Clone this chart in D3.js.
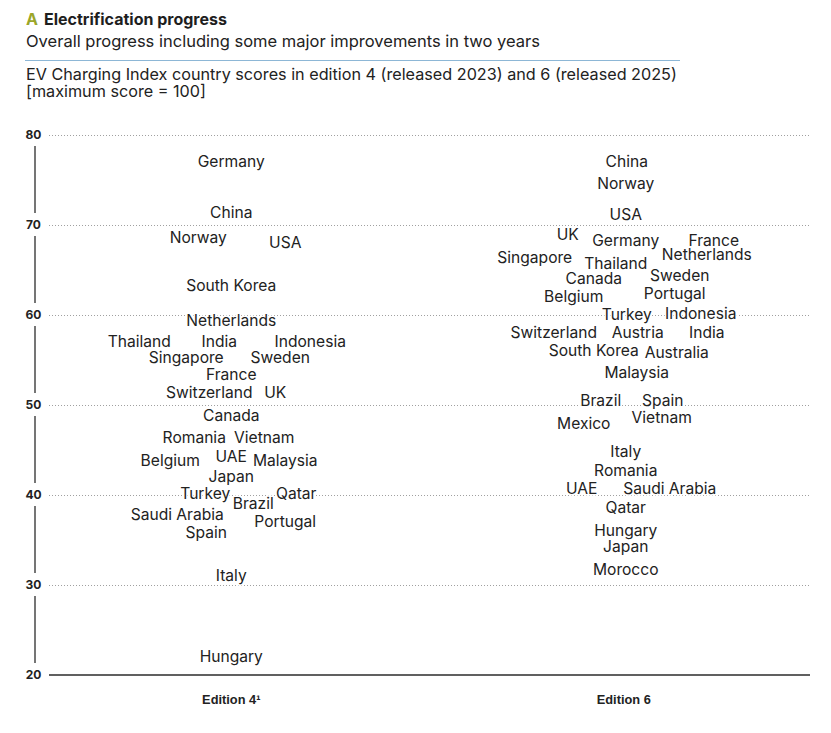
<!DOCTYPE html>
<html>
<head>
<meta charset="utf-8">
<script src="https://cdn.jsdelivr.net/npm/d3@7"></script>
<style>
  body { margin: 0; background: #fff; }
  svg { display: block; font-family: Inter, "Noto Sans", sans-serif; }
  .title { font-size: 16px; font-weight: 700; fill: #1e1e1e; }
  .title-letter { fill: #9ba62a; }
  .subtitle { font-size: 16.5px; fill: #222; }
  .desc { font-size: 16.2px; fill: #222; }
  .grid line { stroke: #a0a0a0; stroke-width: 1; stroke-dasharray: 1 2; }
  .tick-label { font-size: 12px; font-weight: 700; fill: #222; }
  .axis-seg { stroke: #2b2b2b; stroke-width: 1.3; }
  .baseline { stroke: #2b2b2b; stroke-width: 1.5; }
  .country { font-size: 15.6px; fill: #222; stroke: #fff; stroke-width: 3px;
             paint-order: stroke; stroke-linejoin: round; }
  .axis--x text { font-size: 12.8px; font-weight: 700; fill: #222; }
</style>
</head>
<body>
<div id="chart"></div>
<script>
(function () {
  "use strict";

  // Data
  const editions = ["Edition 4", "Edition 6"];
  const editionLabels = ["Edition 4\u00b9", "Edition 6"];
  const yTicks = [20, 30, 40, 50, 60, 70, 80];

  const ed4Countries = ["Germany", "China", "Norway", "USA", "South Korea", "Netherlands",
    "Thailand", "India", "Indonesia", "Singapore", "Sweden", "France", "Switzerland", "UK",
    "Canada", "Romania", "Vietnam", "Belgium", "UAE", "Malaysia", "Japan", "Turkey", "Qatar",
    "Brazil", "Saudi Arabia", "Portugal", "Spain", "Italy", "Hungary"];
  const ed4Scores = [77.0, 71.4, 68.6, 68.1, 63.3, 59.4,
    57.1, 57.1, 57.1, 55.3, 55.3, 53.4, 51.4, 51.4,
    48.8, 46.4, 46.4, 43.8, 44.3, 43.8, 42.0, 40.2, 40.2,
    39.1, 37.8, 37.1, 35.8, 31.1, 22.0];

  const ed6Countries = ["China", "Norway", "USA", "UK", "Germany", "France", "Singapore",
    "Netherlands", "Thailand", "Canada", "Sweden", "Belgium", "Portugal", "Turkey",
    "Indonesia", "Switzerland", "Austria", "India", "South Korea", "Australia", "Malaysia",
    "Brazil", "Spain", "Vietnam", "Mexico", "Italy", "Romania", "UAE", "Saudi Arabia",
    "Qatar", "Hungary", "Japan", "Morocco"];
  const ed6Scores = [77.0, 74.6, 71.2, 68.9, 68.3, 68.3, 66.4,
    66.7, 65.7, 64.1, 64.4, 62.0, 62.4, 60.0,
    60.2, 58.1, 58.1, 58.1, 56.0, 55.8, 53.6,
    50.5, 50.5, 48.6, 47.9, 44.8, 42.7, 40.7, 40.7,
    38.6, 36.1, 34.3, 31.7];

  // Layout: horizontal nudges (px) so that labels with close scores don't collide
  const ed4Nudge = [0, 0, -33, 54, 0, 0,
    -92, -12, 79, -45, 49, 0, -22, 44,
    0, -37, 33, -61, 0, 54, 0, -26, 65,
    22, -54, 54, -25, 0, 0];
  const ed6Nudge = [3, 2, 2, -56, 2, 90, -89,
    83, -8, -30, 56, -50, 51, 3,
    77, -70, 14, 83, -30, 53, 13,
    -23, 39, 38, -40, 2, 2, -42, 46,
    2, 2, 2, 2];

  const rows = [];
  ed4Countries.forEach((c, i) => rows.push({ ed: editions[0], name: c, value: ed4Scores[i], dx: ed4Nudge[i] }));
  ed6Countries.forEach((c, i) => rows.push({ ed: editions[1], name: c, value: ed6Scores[i], dx: ed6Nudge[i] }));

  // Dimensions
  const W = 831, H = 733;
  const plotLeft = 49, plotRight = 811;

  const svg = d3.select("#chart").append("svg")
    .attr("width", W).attr("height", H);

  // Header
  const t = svg.append("text").attr("class", "title").attr("x", 26).attr("y", 25);
  t.append("tspan").attr("class", "title-letter").text("A");
  t.append("tspan").attr("dx", 6).text("Electrification progress");

  svg.append("text").attr("class", "subtitle").attr("x", 26).attr("y", 46.5)
    .text("Overall progress including some major improvements in two years");

  svg.append("line")
    .attr("x1", 25).attr("x2", 680).attr("y1", 60.5).attr("y2", 60.5)
    .attr("stroke", "#8db7d6").attr("stroke-width", 1.2);

  svg.append("text").attr("class", "desc").attr("x", 26).attr("y", 79.5)
    .text("EV Charging Index country scores in edition 4 (released 2023) and 6 (released 2025)");
  svg.append("text").attr("class", "desc").attr("x", 26).attr("y", 97)
    .text("[maximum score = 100]");

  // Scales
  const x = d3.scaleBand().domain(editions).range([35, 820]);
  const y = d3.scaleLinear().domain([20, 80]).range([675, 135]);

  // Gridlines (dotted) above the baseline
  svg.append("g").attr("class", "grid")
    .selectAll("line")
    .data(yTicks.filter(d => d > 20))
    .join("line")
    .attr("x1", plotLeft).attr("x2", plotRight)
    .attr("y1", d => Math.round(y(d)) + 0.5).attr("y2", d => Math.round(y(d)) + 0.5);

  // Baseline
  svg.append("line").attr("class", "baseline")
    .attr("x1", plotLeft).attr("x2", 810)
    .attr("y1", y(20)).attr("y2", y(20));

  // Y axis: tick labels with broken vertical segments in between
  svg.append("g").selectAll("text")
    .data(yTicks)
    .join("text")
    .attr("class", "tick-label")
    .attr("x", 33.5).attr("y", d => y(d))
    .attr("dy", "0.36em")
    .attr("text-anchor", "middle")
    .text(d => d);

  svg.append("g").selectAll("line")
    .data(d3.pairs(yTicks))
    .join("line")
    .attr("class", "axis-seg")
    .attr("x1", 35).attr("x2", 35)
    .attr("y1", d => y(d[0]) - 12)
    .attr("y2", d => y(d[1]) + 11);

  // X axis labels
  svg.append("g")
    .attr("class", "axis--x")
    .attr("transform", `translate(0,${y(20) + 29})`)
    .call(d3.axisBottom(x).tickSize(0).tickFormat((d, i) => editionLabels[i]))
    .call(g => g.select(".domain").remove())
    .call(g => g.selectAll("text").attr("dy", 0).attr("y", 0));

  // Country labels
  svg.append("g").selectAll("text")
    .data(rows)
    .join("text")
    .attr("class", "country")
    .attr("x", d => x(d.ed) + x.bandwidth() / 2 + d.dx)
    .attr("y", d => y(d.value))
    .attr("dy", "0.35em")
    .attr("text-anchor", "middle")
    .text(d => d.name);
})();
</script>
</body>
</html>
